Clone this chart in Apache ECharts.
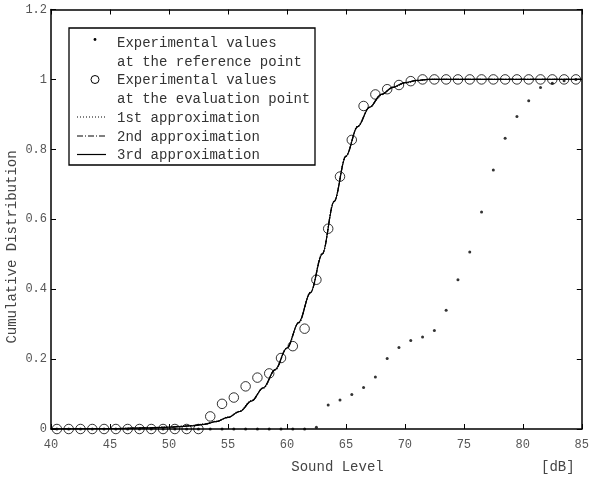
<!DOCTYPE html>
<html>
<head>
<meta charset="utf-8">
<script src="https://cdn.jsdelivr.net/npm/echarts@6/dist/echarts.min.js"></script>
<style>
html,body{margin:0;padding:0;background:#fff;}
#chart{width:592px;height:484px;}
</style>
</head>
<body>
<div id="chart"></div>
<script>
// Measured sound levels (dB)
const soundLevels = [40.5, 41.5, 42.5, 43.5, 44.5, 45.5, 46.5, 47.5, 48.5, 49.5,
  50.5, 51.5, 52.5, 53.5, 54.5, 55.5, 56.5, 57.5, 58.5, 59.5,
  60.5, 61.5, 62.5, 63.5, 64.5, 65.5, 66.5, 67.5, 68.5, 69.5,
  70.5, 71.5, 72.5, 73.5, 74.5, 75.5, 76.5, 77.5, 78.5, 79.5,
  80.5, 81.5, 82.5, 83.5, 84.5];
// Experimental values at the reference point
const refValues = [0, 0, 0, 0, 0, 0, 0, 0, 0, 0,
  0, 0, 0, 0, 0, 0, 0, 0, 0, 0,
  0, 0, 0.005, 0.069, 0.083, 0.099, 0.119, 0.149, 0.202, 0.233,
  0.253, 0.263, 0.282, 0.340, 0.427, 0.506, 0.621, 0.741, 0.832, 0.894,
  0.939, 0.977, 0.989, 0.996, 1.0];
// Experimental values at the evaluation point
const evalValues = [0, 0, 0, 0, 0, 0, 0, 0, 0, 0,
  0, 0, 0, 0.036, 0.072, 0.090, 0.122, 0.147, 0.159, 0.203,
  0.237, 0.287, 0.427, 0.573, 0.722, 0.827, 0.924, 0.957, 0.972, 0.984,
  0.995, 1, 1, 1, 1, 1, 1, 1, 1, 1,
  1, 1, 1, 1, 1];
// Approximation curves
const curveLevels = [40, 45, 48, 50, 51, 52, 53, 54, 55, 56, 57, 58, 59, 60, 61, 62, 63, 64, 65, 66, 67, 68, 69, 70, 71, 72, 75, 80, 85];
const approx1 = [0, 0.001, 0.003, 0.006, 0.008, 0.010, 0.014, 0.022, 0.034, 0.051, 0.081, 0.117, 0.169, 0.231, 0.304, 0.391, 0.502, 0.651, 0.781, 0.866, 0.920, 0.956, 0.977, 0.990, 0.996, 1, 1, 1, 1];
const approx2 = [0, 0.001, 0.003, 0.005, 0.007, 0.010, 0.014, 0.021, 0.033, 0.050, 0.080, 0.118, 0.169, 0.231, 0.304, 0.390, 0.501, 0.651, 0.780, 0.865, 0.920, 0.957, 0.977, 0.990, 0.997, 1, 1, 1, 1];
const approx3 = [0, 0.001, 0.003, 0.005, 0.007, 0.009, 0.013, 0.021, 0.033, 0.050, 0.080, 0.118, 0.170, 0.232, 0.305, 0.390, 0.500, 0.650, 0.780, 0.865, 0.920, 0.957, 0.978, 0.991, 0.997, 1, 1, 1, 1];
// Text
const legendNames = [
  'Experimental values\nat the reference point',
  'Experimental values\nat the evaluation point',
  '1st approximation',
  '2nd approximation',
  '3rd approximation'
];
const xTitle = 'Sound Level';
const xUnit = '[dB]';
const yTitle = 'Cumulative Distribution';

const FONT = '"Liberation Mono", "DejaVu Sans Mono", monospace';
const pairs = (xs, ys) => xs.map((x, i) => [x, ys[i]]);

const chart = echarts.init(document.getElementById('chart'), null, {renderer: 'canvas'});

const axisCommon = {
  type: 'value',
  axisLine: {show: true, onZero: false, lineStyle: {color: '#000', width: 1.5}},
  axisTick: {show: true, inside: true, length: 5, lineStyle: {color: '#000', width: 1}},
  splitLine: {show: false}
};

const lineSeries = (name, ys, type, z) => ({
  name, type: 'line', data: pairs(curveLevels, ys),
  showSymbol: false, symbol: 'none', smooth: 0.35, smoothMonotone: 'x',
  lineStyle: {color: '#000', width: 1.2, type}, z, silent: true
});

const option = {
  animation: false,
  backgroundColor: '#fff',
  grid: {left: 51, right: 8.5, top: 9.5, bottom: 55, containLabel: false},
  xAxis: [
    Object.assign({}, axisCommon, {
      min: 40, max: 85, interval: 5, position: 'bottom',
      axisLabel: {show: true, margin: 10, fontFamily: FONT, fontSize: 12, color: '#555'}
    }),
    Object.assign({}, axisCommon, {
      min: 40, max: 85, interval: 5, position: 'top',
      axisLabel: {show: false}
    })
  ],
  yAxis: [
    Object.assign({}, axisCommon, {
      min: 0, max: 1.2, interval: 0.2, position: 'left',
      axisLabel: {show: true, margin: 4, fontFamily: FONT, fontSize: 12, color: '#555'}
    }),
    Object.assign({}, axisCommon, {
      min: 0, max: 1.2, interval: 0.2, position: 'right',
      axisLabel: {show: false}
    })
  ],
  series: [
    lineSeries(legendNames[2], approx1, 'dotted', 2),
    lineSeries(legendNames[3], approx2, [6, 2, 1, 2], 3),
    lineSeries(legendNames[4], approx3, 'solid', 4),
    {
      name: legendNames[1], type: 'scatter', data: pairs(soundLevels, evalValues),
      symbol: 'circle', symbolSize: 9.5,
      itemStyle: {color: 'rgba(255,255,255,0)', borderColor: '#000', borderWidth: 1}, z: 5
    },
    {
      name: legendNames[0], type: 'scatter', data: pairs(soundLevels, refValues),
      symbol: 'circle', symbolSize: 3,
      itemStyle: {color: '#000'}, z: 6
    }
  ],
  graphic: [
    // legend box
    {type: 'rect', shape: {x: 69, y: 28, width: 246, height: 137}, style: {fill: '#fff', stroke: '#000', lineWidth: 1.3}, z: 100},
    {type: 'circle', shape: {cx: 95, cy: 39.5, r: 1.4}, style: {fill: '#000'}, z: 101},
    {type: 'text', x: 117, y: 34, style: {text: legendNames[0], font: '14px ' + FONT, fill: '#333', verticalAlign: 'top', lineHeight: 18.7}, z: 101},
    {type: 'circle', shape: {cx: 95, cy: 79.5, r: 4}, style: {fill: 'none', stroke: '#000', lineWidth: 1}, z: 101},
    {type: 'text', x: 117, y: 71, style: {text: legendNames[1], font: '14px ' + FONT, fill: '#333', verticalAlign: 'top', lineHeight: 18.7}, z: 101},
    {type: 'line', shape: {x1: 77, y1: 117, x2: 106, y2: 117}, style: {stroke: '#000', lineWidth: 1, lineDash: [1, 2]}, z: 101},
    {type: 'text', x: 117, y: 118.5, style: {text: legendNames[2], font: '14px ' + FONT, fill: '#333', verticalAlign: 'middle'}, z: 101},
    {type: 'line', shape: {x1: 77, y1: 136, x2: 106, y2: 136}, style: {stroke: '#000', lineWidth: 1, lineDash: [6, 2, 1, 2]}, z: 101},
    {type: 'text', x: 117, y: 137, style: {text: legendNames[3], font: '14px ' + FONT, fill: '#333', verticalAlign: 'middle'}, z: 101},
    {type: 'line', shape: {x1: 77, y1: 154.5, x2: 106, y2: 154.5}, style: {stroke: '#000', lineWidth: 1.2}, z: 101},
    {type: 'text', x: 117, y: 155.5, style: {text: legendNames[4], font: '14px ' + FONT, fill: '#333', verticalAlign: 'middle'}, z: 101},
    // axis titles
    {type: 'text', x: 337.5, y: 467, style: {text: xTitle, font: '14px ' + FONT, fill: '#444', align: 'center', verticalAlign: 'middle'}},
    {type: 'text', x: 541, y: 467, style: {text: xUnit, font: '14px ' + FONT, fill: '#444', align: 'left', verticalAlign: 'middle'}},
    {type: 'text', x: 12, y: 247, rotation: Math.PI / 2, style: {text: yTitle, font: '14px ' + FONT, fill: '#444', align: 'center', verticalAlign: 'middle'}}
  ]
};
chart.setOption(option);
</script>
</body>
</html>
